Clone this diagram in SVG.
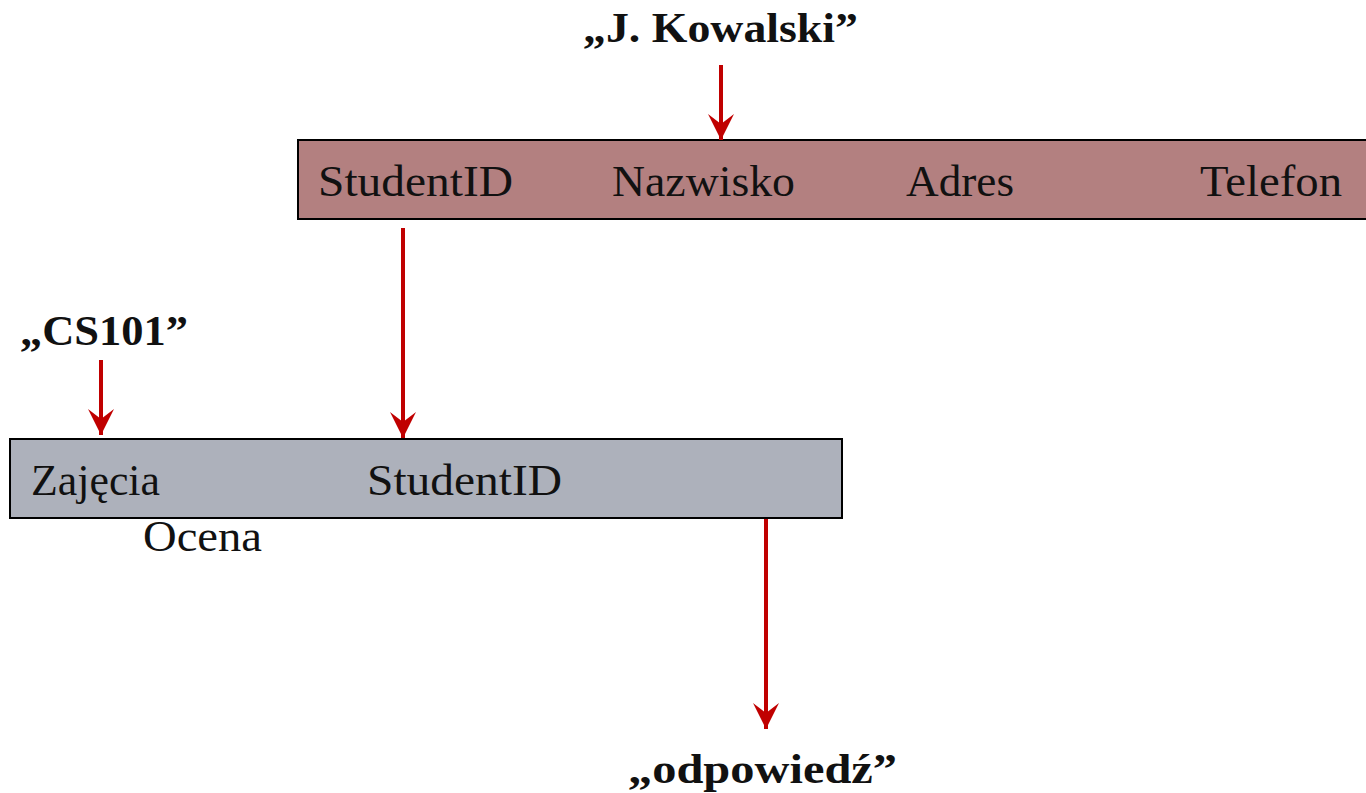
<svg xmlns="http://www.w3.org/2000/svg" width="1366" height="793" viewBox="0 0 1366 793">
<style>
.t{font-family:"Liberation Serif","Times New Roman",serif;font-size:44px;fill:#111}
.b{font-family:"Liberation Serif","Times New Roman",serif;font-size:42px;font-weight:bold;fill:#111}
.c{stroke:#c00000;stroke-width:4;fill:none}
</style>
<defs>
<marker id="ah" markerUnits="userSpaceOnUse" markerWidth="30" markerHeight="30" viewBox="0 -15 28 30" refX="26" refY="0" orient="auto">
<path d="M0,-13 L26,0 L0,13 L10,0 Z" fill="#c00000"/>
</marker>
</defs>
<rect width="1366" height="793" fill="#fff"/>
<g id="student">
<rect x="298" y="140" width="1080" height="79" fill="#b38080" stroke="#000" stroke-width="2"/>
<text class="t" x="318" y="196" textLength="195" lengthAdjust="spacingAndGlyphs">StudentID</text>
<text class="t" x="612" y="196" textLength="183" lengthAdjust="spacingAndGlyphs">Nazwisko</text>
<text class="t" x="906" y="196" textLength="108" lengthAdjust="spacingAndGlyphs">Adres</text>
<text class="t" x="1200" y="196" textLength="142" lengthAdjust="spacingAndGlyphs">Telefon</text>
</g>
<g id="oceny">
<rect x="10" y="439" width="832" height="79" fill="#adb1bb" stroke="#000" stroke-width="2"/>
<text class="t" x="31" y="495" textLength="129" lengthAdjust="spacingAndGlyphs">Zajęcia</text>
<text class="t" x="367" y="495" textLength="195" lengthAdjust="spacingAndGlyphs">StudentID</text>
<text class="t" x="143" y="551" textLength="119" lengthAdjust="spacingAndGlyphs">Ocena</text>
</g>
<g id="kowalski"><text class="b" x="583" y="42" textLength="275" lengthAdjust="spacingAndGlyphs">„J. Kowalski”</text></g>
<g id="cs101"><text class="b" x="20" y="345" textLength="168" lengthAdjust="spacingAndGlyphs">„CS101”</text></g>
<g id="odpowiedz"><text class="b" x="628" y="783" textLength="269" lengthAdjust="spacingAndGlyphs">„odpowiedź”</text></g>
<g id="connectors">
<line class="c" x1="721" y1="65" x2="721" y2="140" marker-end="url(#ah)"/>
<line class="c" x1="403" y1="228" x2="403" y2="438" marker-end="url(#ah)"/>
<line class="c" x1="101" y1="360" x2="101" y2="435" marker-end="url(#ah)"/>
<line class="c" x1="766" y1="519" x2="766" y2="729" marker-end="url(#ah)"/>
</g>
</svg>
